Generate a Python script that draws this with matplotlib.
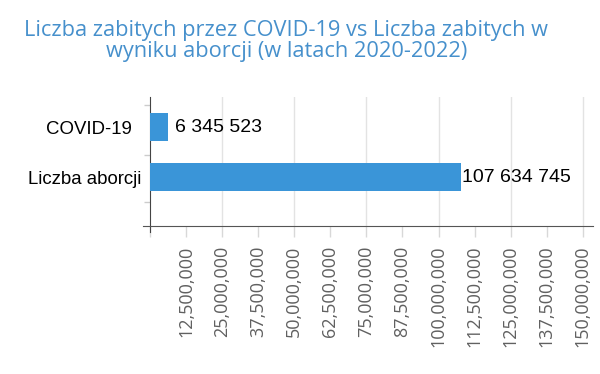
import matplotlib
matplotlib.use("Agg")
import matplotlib.pyplot as plt
import matplotlib.transforms as mtransforms
from matplotlib.ticker import MultipleLocator, FuncFormatter, FixedLocator

plt.rcParams['font.family'] = 'Open Sans'

# dane
categories = ["COVID-19", "Liczba aborcji"]
values = [6345523, 107634745]
value_labels = ["6 345 523", "107 634 745"]
title = "Liczba zabitych przez COVID-19 vs Liczba zabitych w\nwyniku aborcji (w latach 2020-2022)"

bar_color = "#3a95d8"
title_color = "#4690cc"

W, H = 600, 374
fig = plt.figure(figsize=(6, 3.74), dpi=100)
ax = fig.add_axes([143 / W, 1 - 226 / H, (593 - 143) / W, (226 - 97) / H])

# ramka - najpierw, bo set_position resetuje ticki
for s in ["top", "right"]:
    ax.spines[s].set_visible(False)
ax.spines['left'].set_position(('data', 0))
ax.spines['left'].set_color("#444444")
ax.spines['bottom'].set_color("#555555")

y_pos = list(range(len(categories)))
ax.barh(y_pos, values, height=0.55, color=bar_color, zorder=3)

ax.set_xlim(-2.4e6, 153.5e6)
ax.set_ylim(1.98, -0.6)
ax.spines['left'].set_bounds(1.98 + 0.12, -0.6)

# os x
ax.xaxis.set_major_locator(MultipleLocator(12.5e6))
ax.xaxis.set_major_formatter(FuncFormatter(lambda v, p: f"{int(v):,}" if v > 0 else ""))
ax.tick_params(axis='x', which='major', length=8, color="#d8d8d8", width=1,
               labelrotation=90, labelsize=13, labelcolor="#606060", pad=6)

# siatka co 25 mln
for gx in range(1, 7):
    ax.axvline(gx * 25e6, color="#e3e3e3", lw=1, zorder=1)

# os y
ax.yaxis.set_major_locator(FixedLocator(y_pos))
ax.set_yticklabels(categories, fontfamily='Liberation Sans', fontsize=13.4, color="black")
ax.tick_params(axis='y', which='major', length=0, pad=6)
ax.yaxis.set_minor_locator(FixedLocator([-0.45, 0.55, 1.5]))
ax.tick_params(axis='y', which='minor', length=4, color="#cccccc", width=1)

# COVID-19 w oryginale jest troche bardziej w lewo
lbl = ax.get_yticklabels()[0]
lbl.set_transform(lbl.get_transform() + mtransforms.ScaledTranslation(-10 / 100, 0, fig.dpi_scale_trans))

# etykiety wartosci
gaps = [5, 1]
for y, v, t, g in zip(y_pos, values, value_labels, gaps):
    ax.annotate(t, (v, y), xytext=(g, 0), textcoords='offset points',
                va='center', ha='left', fontsize=14,
                fontfamily='Liberation Sans', color="black", zorder=4)

fig.text(0.477, 0.946, title, ha='center', va='top', fontsize=15.7,
         color=title_color, linespacing=0.97)

fig.savefig("out.png", dpi=100)
